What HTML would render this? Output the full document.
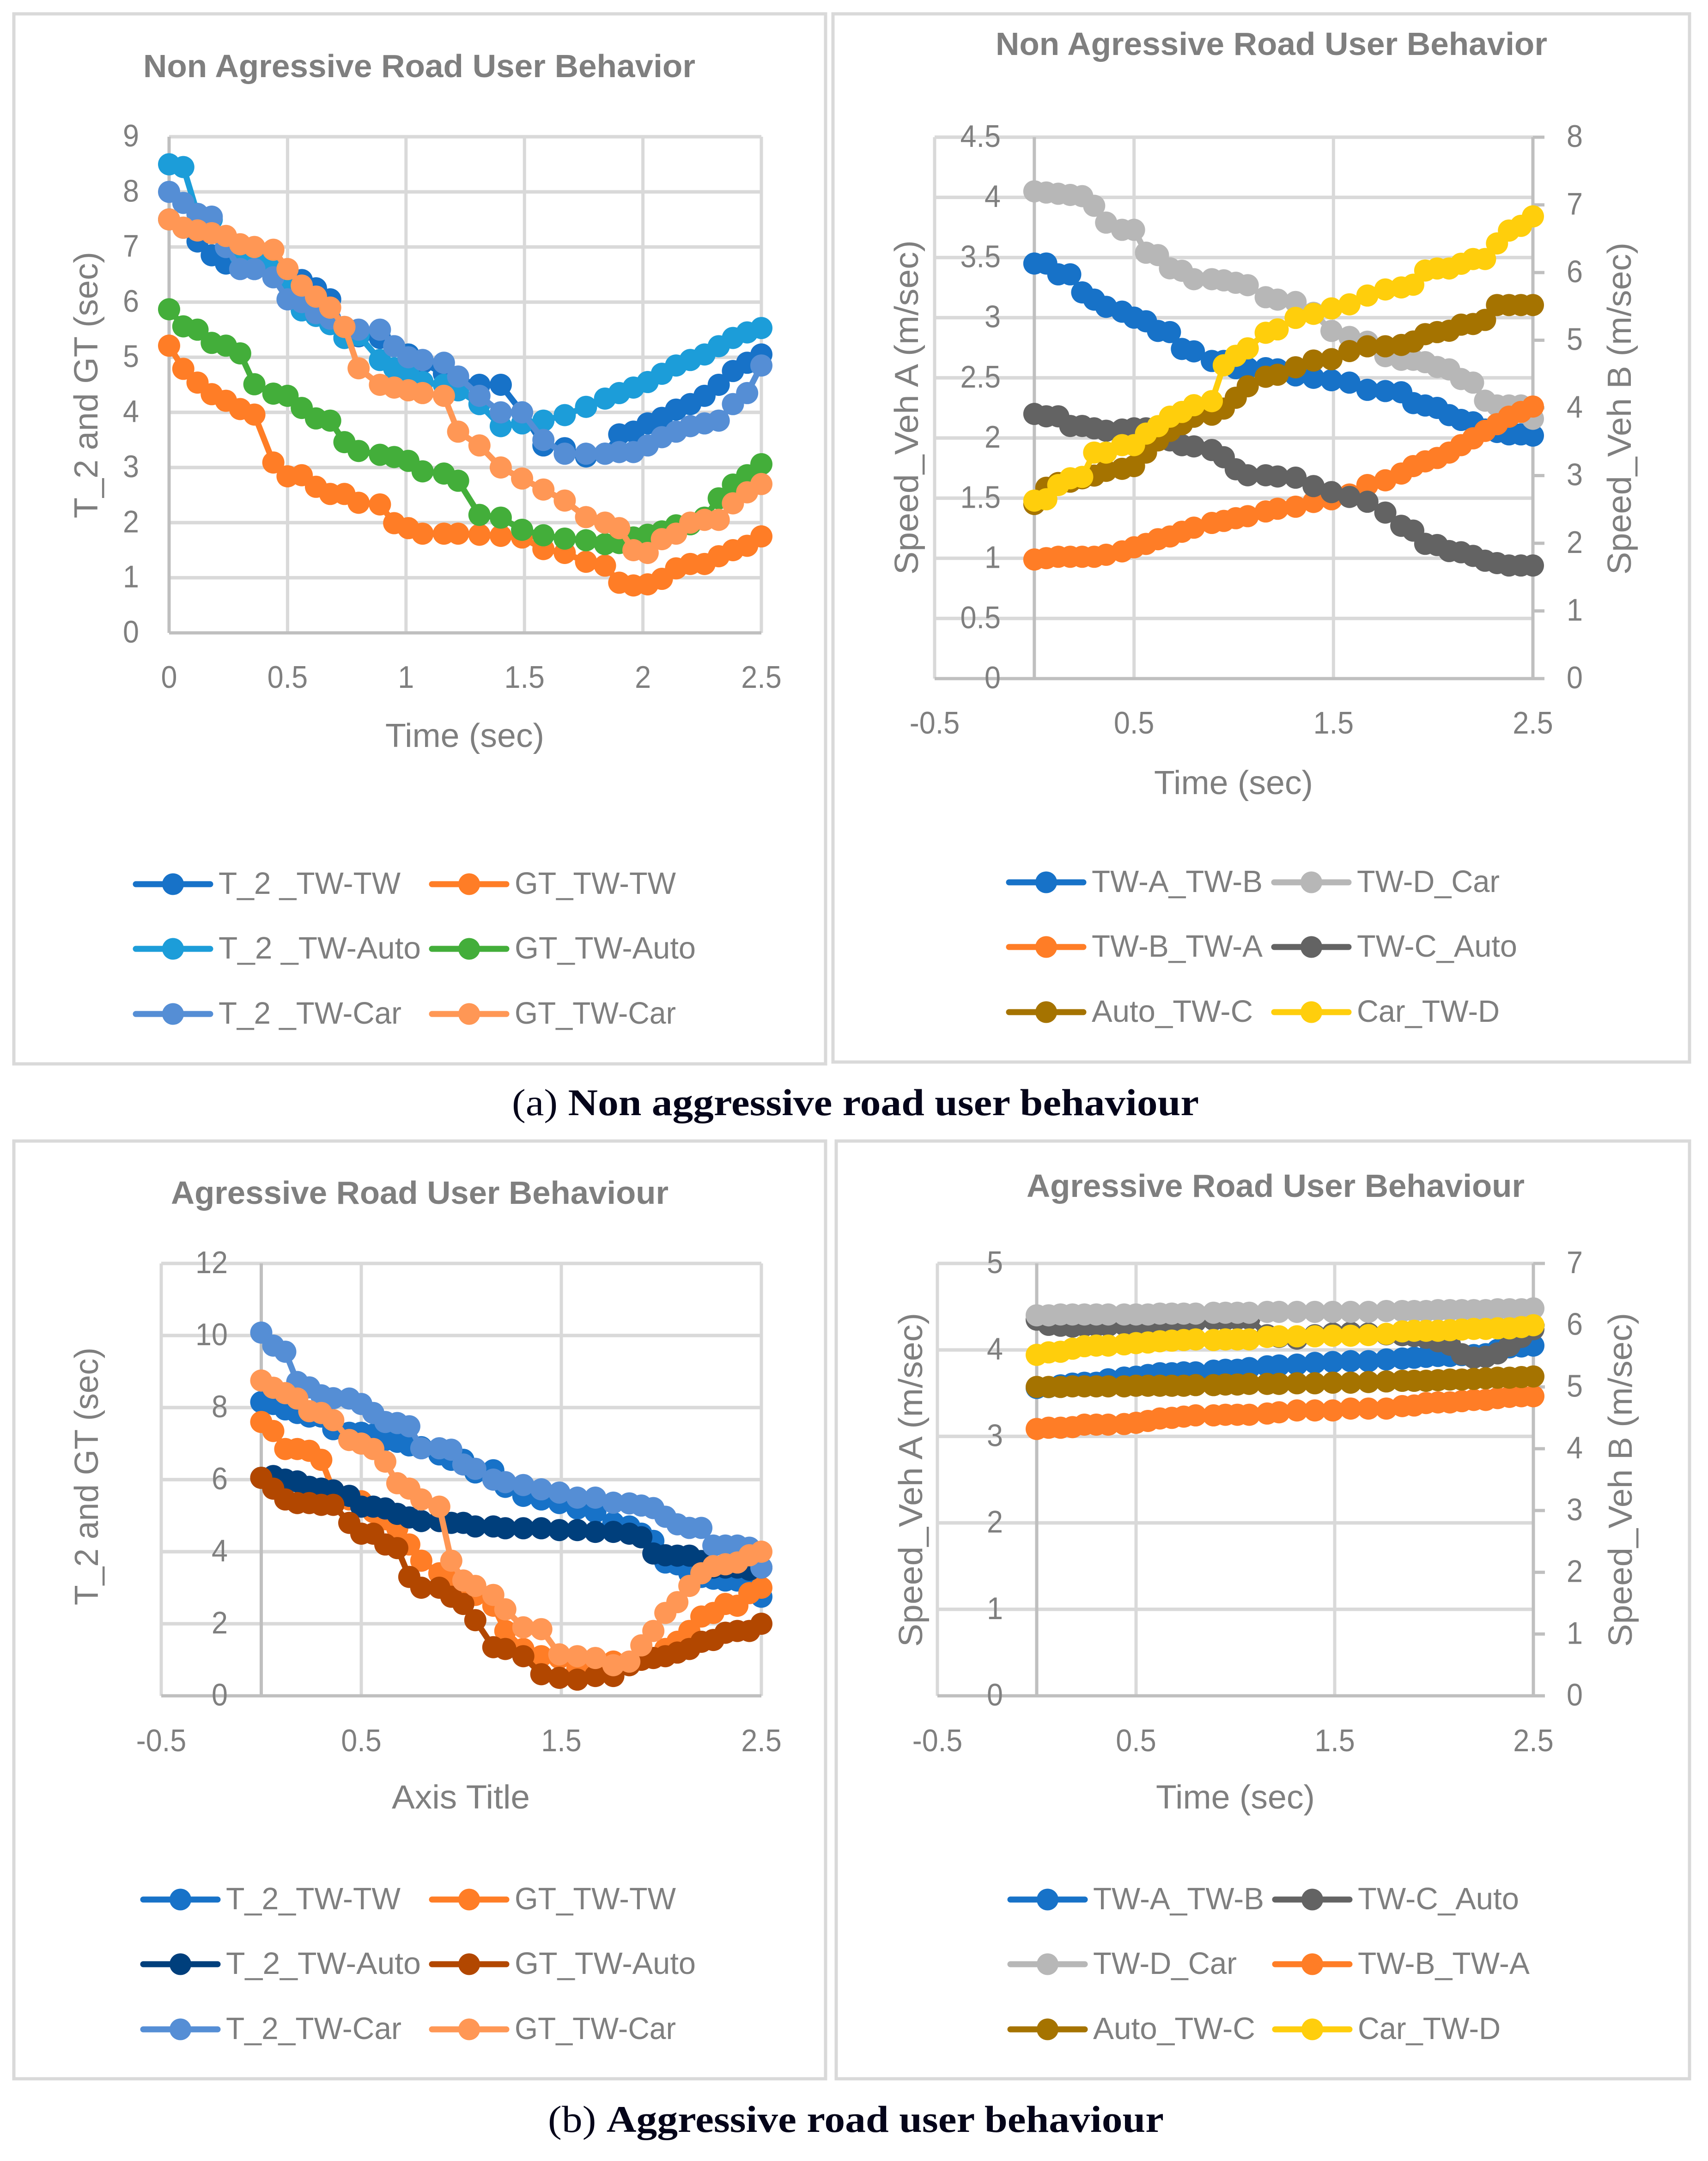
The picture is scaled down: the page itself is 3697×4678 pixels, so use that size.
<!DOCTYPE html>
<html lang="en">
<head>
<meta charset="utf-8">
<title>Road User Behaviour Charts</title>
<style>
html,body{margin:0;padding:0;background:#fff;width:3697px;height:4678px;overflow:hidden}
svg{display:block}
text{font-family:"Liberation Sans",sans-serif;fill:#7f7f7f}
.chart-title{font-size:70px;font-weight:bold}
.axis-title{font-size:72px}
.caption{font-family:"Liberation Serif",serif;font-size:82px;fill:#05051a}
</style>
</head>
<body>
<svg id="figure" xmlns="http://www.w3.org/2000/svg" width="3697" height="4678" viewBox="0 0 3697 4678">
  <rect x="0" y="0" width="3697" height="4678" fill="#ffffff"/>
  <rect x="30" y="30" width="1757" height="2273" fill="#fff" stroke="#d9d9d9" stroke-width="7"/>
  <rect x="1803" y="30" width="1854" height="2269" fill="#fff" stroke="#d9d9d9" stroke-width="7"/>
  <rect x="30" y="2470" width="1757" height="2030" fill="#fff" stroke="#d9d9d9" stroke-width="7"/>
  <rect x="1810" y="2470" width="1847" height="2030" fill="#fff" stroke="#d9d9d9" stroke-width="7"/>

  <g id="chart1"></g>
  <g id="chart2"></g>
  <g id="chart3"></g>
  <g id="chart4"></g>

  <text class="chart-title" x="310" y="167" textLength="1195" lengthAdjust="spacingAndGlyphs">Non Agressive Road User Behavior</text>
  <text class="chart-title" x="2155" y="119" textLength="1194" lengthAdjust="spacingAndGlyphs">Non Agressive Road User Behavior</text>
  <text class="chart-title" x="370" y="2606" textLength="1077" lengthAdjust="spacingAndGlyphs">Agressive Road User Behaviour</text>
  <text class="chart-title" x="2222" y="2591" textLength="1078" lengthAdjust="spacingAndGlyphs">Agressive Road User Behaviour</text>

  <text class="axis-title" x="834" y="1617" textLength="344" lengthAdjust="spacingAndGlyphs">Time (sec)</text>
  <text class="axis-title" transform="translate(211,1122) rotate(-90)" textLength="577" lengthAdjust="spacingAndGlyphs">T_2  and GT (sec)</text>
  <text class="axis-title" x="2498" y="1719" textLength="344" lengthAdjust="spacingAndGlyphs">Time (sec)</text>
  <text class="axis-title" transform="translate(1987,1244) rotate(-90)" textLength="724" lengthAdjust="spacingAndGlyphs">Speed_Veh A (m/sec)</text>
  <text class="axis-title" transform="translate(3530,1244) rotate(-90)" textLength="719" lengthAdjust="spacingAndGlyphs">Speed_Veh B (m/sec)</text>
  <text class="axis-title" x="848" y="3915" textLength="299" lengthAdjust="spacingAndGlyphs">Axis Title</text>
  <text class="axis-title" transform="translate(212,3475) rotate(-90)" textLength="558" lengthAdjust="spacingAndGlyphs">T_2 and GT (sec)</text>
  <text class="axis-title" x="2502" y="3915" textLength="344" lengthAdjust="spacingAndGlyphs">Time (sec)</text>
  <text class="axis-title" transform="translate(1996,3565) rotate(-90)" textLength="723" lengthAdjust="spacingAndGlyphs">Speed_Veh A (m/sec)</text>
  <text class="axis-title" transform="translate(3532,3565) rotate(-90)" textLength="723" lengthAdjust="spacingAndGlyphs">Speed_Veh B (m/sec)</text>

  <text class="caption" x="1108" y="2414" textLength="1487" lengthAdjust="spacingAndGlyphs">(a) <tspan font-weight="bold">Non aggressive road user behaviour</tspan></text>
  <text class="caption" x="1186" y="4615" textLength="1333" lengthAdjust="spacingAndGlyphs">(b) <tspan font-weight="bold">Aggressive road user behaviour</tspan></text>
</svg>

<script>
// ---------- shared category values ----------
const times = [0,0.06,0.12,0.18,0.24,0.30,0.36,0.44,0.50,0.56,0.62,0.68,0.74,0.80,0.89,0.95,1.01,1.07,1.16,1.22,1.31,1.40,1.49,1.58,1.67,1.76,1.84,1.90,1.96,2.02,2.08,2.14,2.20,2.26,2.32,2.38,2.44,2.50];

// ---------- chart 1 values ----------
const c1XTicks = [0,0.5,1,1.5,2,2.5];
const c1YTicks = [0,1,2,3,4,5,6,7,8,9];
const c1T2TwTw = [7.5,7.35,7.1,6.85,6.7,6.7,6.6,6.5,6.45,6.4,6.25,6.05,5.35,5.38,5.35,5.2,5.05,4.9,4.7,4.6,4.5,4.5,4.0,3.4,3.35,3.2,3.25,3.6,3.65,3.8,3.9,4.05,4.15,4.3,4.5,4.75,4.9,5.05];
const c1GtTwTw = [5.21,4.79,4.54,4.33,4.21,4.06,3.96,3.09,2.84,2.86,2.65,2.52,2.52,2.36,2.33,1.99,1.9,1.8,1.8,1.8,1.78,1.76,1.73,1.52,1.45,1.29,1.22,0.91,0.86,0.88,0.98,1.17,1.25,1.25,1.39,1.5,1.58,1.75];
const c1T2TwAuto = [8.5,8.45,7.6,7.5,7.0,6.85,6.75,6.7,6.35,5.85,5.75,5.6,5.35,5.4,4.95,4.8,4.7,4.55,4.5,4.4,4.15,3.75,3.8,3.85,3.95,4.1,4.25,4.35,4.45,4.55,4.7,4.85,4.95,5.05,5.2,5.35,5.45,5.53];
const c1GtTwAuto = [5.87,5.56,5.5,5.26,5.21,5.07,4.51,4.34,4.3,4.08,3.89,3.85,3.46,3.3,3.23,3.19,3.12,2.93,2.89,2.76,2.14,2.09,1.87,1.77,1.71,1.68,1.61,1.63,1.73,1.78,1.84,1.95,1.97,2.09,2.44,2.69,2.86,3.06];
const c1T2TwCar = [8.0,7.8,7.6,7.55,7.0,6.6,6.6,6.45,6.05,6.0,5.8,5.7,5.55,5.5,5.5,5.2,5.0,4.95,4.9,4.65,4.3,4.0,4.0,3.5,3.25,3.25,3.25,3.28,3.28,3.4,3.55,3.65,3.75,3.8,3.85,4.15,4.35,4.85];
const c1GtTwCar = [7.5,7.35,7.3,7.25,7.2,7.05,7.0,6.95,6.6,6.3,6.1,5.9,5.55,4.8,4.5,4.45,4.4,4.35,4.3,3.65,3.4,3,2.8,2.6,2.4,2.1,2.0,1.9,1.5,1.45,1.7,1.8,2.0,2.05,2.05,2.35,2.55,2.7];

// ---------- chart 2 values ----------
const c2XTicks = [-0.5,0.5,1.5,2.5];
const c2LeftTicks = [0,0.5,1,1.5,2,2.5,3,3.5,4,4.5];
const c2RightTicks = [0,1,2,3,4,5,6,7,8];
const c2TwATwB = [3.45,3.45,3.36,3.36,3.21,3.15,3.09,3.05,3.0,2.97,2.89,2.88,2.74,2.72,2.64,2.64,2.58,2.58,2.58,2.57,2.52,2.5,2.48,2.46,2.40,2.39,2.38,2.29,2.27,2.25,2.19,2.15,2.13,2.07,2.05,2.03,2.03,2.02];
const c2TwDCar = [4.05,4.04,4.03,4.02,4.01,3.93,3.79,3.73,3.73,3.54,3.52,3.41,3.39,3.32,3.32,3.31,3.29,3.27,3.17,3.15,3.13,3.04,2.89,2.84,2.8,2.68,2.65,2.65,2.63,2.59,2.57,2.49,2.46,2.31,2.27,2.27,2.27,2.16];
const c2TwBTwA = [1.76,1.78,1.8,1.8,1.8,1.8,1.83,1.88,1.94,1.99,2.06,2.1,2.17,2.23,2.3,2.33,2.37,2.4,2.47,2.51,2.54,2.61,2.65,2.72,2.86,2.93,3.03,3.14,3.21,3.26,3.34,3.45,3.55,3.66,3.76,3.87,3.94,4.02];
const c2TwCAuto = [2.2,2.18,2.18,2.1,2.1,2.08,2.06,2.07,2.08,2.08,2.06,1.98,1.94,1.93,1.9,1.84,1.74,1.69,1.69,1.68,1.67,1.6,1.55,1.51,1.47,1.38,1.27,1.23,1.12,1.11,1.06,1.05,1.02,0.98,0.96,0.94,0.94,0.94];
const c2AutoTwC = [2.58,2.82,2.89,2.91,2.96,3.0,3.07,3.1,3.14,3.34,3.52,3.66,3.76,3.87,3.9,3.99,4.15,4.32,4.46,4.49,4.6,4.7,4.72,4.84,4.91,4.91,4.93,4.98,5.09,5.12,5.14,5.23,5.24,5.3,5.52,5.52,5.52,5.52];
const c2CarTwD = [2.63,2.65,2.86,2.96,2.98,3.34,3.34,3.45,3.45,3.62,3.73,3.87,3.94,4.04,4.1,4.63,4.77,4.88,5.11,5.16,5.33,5.39,5.47,5.53,5.66,5.75,5.78,5.82,6.03,6.06,6.06,6.13,6.2,6.2,6.43,6.62,6.69,6.83];

// ---------- chart 3 values ----------
const c3XTicks = [-0.5,0.5,1.5,2.5];
const c3YTicks = [0,2,4,6,8,10,12];
const c3T2TwTw = [8.15,8.1,7.95,7.85,7.75,7.75,7.4,7.3,7.3,7.25,7.1,7.05,6.95,6.9,6.7,6.55,6.55,6.2,6.26,5.8,5.55,5.45,5.35,5.2,5.1,4.8,4.7,4.5,4.3,3.7,3.65,3.4,3.3,3.25,3.2,3.2,3.05,2.75];
const c3GtTwTw = [7.6,7.35,6.85,6.85,6.8,6.55,5.7,5.45,5.4,5.1,4.9,4.65,4.2,3.75,3.4,3.2,3.0,2.8,2.5,1.8,1.3,1.1,1.05,0.75,0.65,0.95,0.9,1.0,1.05,1.3,1.5,1.8,2.2,2.3,2.55,2.5,2.85,3.0];
const c3T2TwAuto = [6.05,6.1,6.0,5.95,5.8,5.75,5.7,5.55,5.25,5.25,5.2,5.05,4.95,4.85,4.85,4.8,4.8,4.7,4.7,4.65,4.65,4.65,4.6,4.6,4.55,4.55,4.5,4.4,3.95,3.9,3.89,3.89,3.74,3.56,3.56,3.56,3.5,3.56];
const c3GtTwAuto = [6.05,5.75,5.45,5.35,5.35,5.3,5.3,4.8,4.5,4.5,4.2,4.1,3.3,3.0,3.0,2.75,2.55,2.1,1.35,1.3,1.1,0.6,0.5,0.45,0.55,0.55,0.85,1.0,1.05,1.1,1.2,1.3,1.5,1.55,1.75,1.8,1.8,2.0];
const c3T2TwCar = [10.08,9.72,9.55,8.71,8.56,8.34,8.26,8.25,8.1,7.85,7.6,7.57,7.48,6.87,6.87,6.83,6.42,6.3,6.0,5.93,5.85,5.73,5.64,5.5,5.5,5.36,5.34,5.28,5.21,4.97,4.76,4.66,4.66,4.17,4.17,4.17,4.11,3.56];
const c3GtTwCar = [8.75,8.55,8.4,8.25,7.9,7.85,7.65,7.1,7.0,6.85,6.5,5.9,5.75,5.45,5.25,3.75,3.2,3.05,2.8,2.4,1.9,1.85,1.15,1.1,1.05,0.85,0.95,1.4,1.8,2.3,2.6,3.05,3.4,3.6,3.65,3.7,3.9,4.0];

// ---------- chart 4 values ----------
const c4XTicks = [-0.5,0.5,1.5,2.5];
const c4LeftTicks = [0,1,2,3,4,5];
const c4RightTicks = [0,1,2,3,4,5,6,7];
const c4TwATwB = [3.56,3.57,3.59,3.61,3.62,3.62,3.66,3.68,3.69,3.71,3.73,3.73,3.74,3.74,3.76,3.77,3.77,3.79,3.81,3.82,3.83,3.85,3.86,3.87,3.87,3.89,3.9,3.91,3.92,3.93,3.93,3.94,3.94,3.95,4.0,4.03,4.04,4.05];
const c4TwCAuto = [4.35,4.29,4.28,4.27,4.28,4.28,4.28,4.29,4.3,4.3,4.31,4.32,4.33,4.33,4.35,4.35,4.36,4.36,4.17,4.15,4.13,4.17,4.19,4.2,4.19,4.18,4.17,4.16,4.14,4.1,4.06,3.95,3.91,3.92,3.96,4.05,4.15,4.24];
const c4TwDCar = [4.40,4.40,4.41,4.41,4.41,4.41,4.41,4.41,4.41,4.41,4.42,4.42,4.42,4.42,4.43,4.43,4.43,4.43,4.44,4.44,4.44,4.44,4.44,4.44,4.44,4.45,4.45,4.45,4.45,4.46,4.46,4.46,4.46,4.46,4.47,4.47,4.47,4.48];
const c4TwBTwA = [4.32,4.34,4.34,4.35,4.39,4.39,4.39,4.40,4.42,4.45,4.49,4.50,4.52,4.54,4.54,4.55,4.55,4.55,4.57,4.59,4.62,4.62,4.62,4.65,4.65,4.65,4.69,4.70,4.74,4.75,4.75,4.77,4.79,4.79,4.82,4.84,4.85,4.85];
const c4AutoTwC = [5.0,5.0,5.0,5.01,5.01,5.01,5.01,5.01,5.02,5.02,5.02,5.02,5.02,5.03,5.03,5.04,5.04,5.05,5.05,5.05,5.06,5.06,5.07,5.07,5.08,5.09,5.1,5.1,5.1,5.11,5.12,5.12,5.13,5.14,5.15,5.15,5.16,5.17];
const c4CarTwD = [5.52,5.56,5.57,5.62,5.66,5.67,5.67,5.69,5.71,5.72,5.74,5.75,5.76,5.77,5.76,5.77,5.77,5.77,5.81,5.82,5.82,5.82,5.83,5.83,5.84,5.86,5.9,5.91,5.91,5.91,5.92,5.93,5.94,5.94,5.95,5.95,5.97,6.0];

// ---------- renderer ----------
const NS = 'http://www.w3.org/2000/svg';
const GRID = '#d9d9d9';
const AXIS = '#bfbfbf';
const TICK_SIZE = 68;
const LEGEND_SIZE = 67;

function make(tag, attrs, parent) {
  const node = document.createElementNS(NS, tag);
  for (const key in attrs) node.setAttribute(key, attrs[key]);
  parent.appendChild(node);
  return node;
}

function drawLabel(parent, str, x, y, anchor, size, width) {
  const label = make('text', {x: x, y: y, 'text-anchor': anchor, 'font-size': size}, parent);
  if (width) {
    label.setAttribute('textLength', width);
    label.setAttribute('lengthAdjust', 'spacingAndGlyphs');
  }
  label.textContent = str;
  return label;
}

// width of a numeric tick label in the narrower face used by the source chart
function tickWidth(str) {
  let w = 0;
  for (const ch of str) w += ch === '.' ? 17.5 : ch === '-' ? 21 : 35;
  return w;
}

function drawChart(cfg) {
  const root = document.getElementById(cfg.id);
  const xScale = v => cfg.left + (v - cfg.xMin) / (cfg.xMax - cfg.xMin) * (cfg.right - cfg.left);
  const yLeft = v => cfg.bottom - (v - cfg.yMin) / (cfg.yMax - cfg.yMin) * (cfg.bottom - cfg.top);
  const yRight = v => cfg.bottom - v / cfg.y2Max * (cfg.bottom - cfg.top);

  cfg.xTicks.forEach(v => {
    const grid = make('line', {x1: xScale(v), x2: xScale(v), y1: cfg.top, y2: cfg.bottom, stroke: GRID, 'stroke-width': 7}, root);
    
    
    const tick = drawLabel(root, String(v), xScale(v), cfg.xLabelY, 'middle', TICK_SIZE, tickWidth(String(v)));
    
    
  });

  cfg.yTicks.forEach(v => {
    if (v === 0) return;
    const grid = make('line', {x1: cfg.left, x2: cfg.right, y1: yLeft(v), y2: yLeft(v), stroke: GRID, 'stroke-width': 7.5}, root);
    
    
  });

  const bottomAxis = make('line', {x1: cfg.left, x2: cfg.right + (cfg.y2Ticks ? 25 : 0), y1: cfg.bottom, y2: cfg.bottom, stroke: AXIS, 'stroke-width': 7}, root);
  
  

  const zero = make('line', {x1: xScale(0), x2: xScale(0), y1: cfg.top, y2: cfg.bottom, stroke: AXIS, 'stroke-width': 7}, root);
  
  

  if (cfg.y2Ticks) {
    const rightAxis = make('line', {x1: cfg.right, x2: cfg.right, y1: cfg.top, y2: cfg.bottom, stroke: AXIS, 'stroke-width': 7}, root);
    
    
    cfg.y2Ticks.forEach(v => {
      const mark = make('line', {x1: cfg.right, x2: cfg.right + 25, y1: yRight(v), y2: yRight(v), stroke: AXIS, 'stroke-width': 7}, root);
      
      
      const tick = drawLabel(root, String(v), cfg.y2LabelX, yRight(v) + 21, 'start', TICK_SIZE, tickWidth(String(v)));
      
      
    });
  }

  cfg.series.forEach(s => {
    const yFn = s.secondary ? yRight : yLeft;
    const group = make('g', {}, root);
    
    
    const pts = s.values.map((v, i) => xScale(times[i]).toFixed(1) + ',' + yFn(v).toFixed(1)).join(' ');
    const line = make('polyline', {points: pts, fill: 'none', stroke: s.color, 'stroke-width': 13, 'stroke-linejoin': 'round'}, group);
    
    
    s.values.forEach((v, i) => {
      const dot = make('circle', {cx: xScale(times[i]), cy: yFn(v), r: 24, fill: s.color}, group);
      
      
    });
  });

  cfg.yTicks.forEach(v => {
    const tick = drawLabel(root, String(v), cfg.yLabelX, yLeft(v) + 21, 'end', TICK_SIZE, tickWidth(String(v)));
    
    
  });

  cfg.legend.forEach(item => {
    const entry = make('g', {}, root);
    
    
    const swatch = make('line', {x1: item.x + 6, x2: item.x + 167, y1: item.y, y2: item.y, stroke: item.color, 'stroke-width': 13, 'stroke-linecap': 'round'}, entry);
    
    
    const mark = make('circle', {cx: item.x + 86.5, cy: item.y, r: 23.5, fill: item.color}, entry);
    
    
    const label = drawLabel(entry, item.label, item.x + 185, item.y + 21, 'start', LEGEND_SIZE, item.w);
    
    
  });
}

drawChart({
  id: 'chart1', left: 366, right: 1648, top: 296, bottom: 1370,
  xMin: 0, xMax: 2.5, yMin: 0, yMax: 9,
  xTicks: c1XTicks, yTicks: c1YTicks, xLabelY: 1489, yLabelX: 301,
  series: [
    {name: 'T_2-TW-TW', values: c1T2TwTw, color: '#1772c8'},
    {name: 'GT-TW-TW', values: c1GtTwTw, color: '#ff7d26'},
    {name: 'T_2-TW-Auto', values: c1T2TwAuto, color: '#1c9dd9'},
    {name: 'GT-TW-Auto', values: c1GtTwAuto, color: '#43ae3a'},
    {name: 'T_2-TW-Car', values: c1T2TwCar, color: '#558ed5'},
    {name: 'GT-TW-Car', values: c1GtTwCar, color: '#ff9755'}
  ],
  legend: [
    {label: 'T_2 _TW-TW', x: 288, y: 1914, w: 394, color: '#1772c8'},
    {label: 'GT_TW-TW', x: 929, y: 1914, w: 349, color: '#ff7d26'},
    {label: 'T_2 _TW-Auto', x: 288, y: 2054, w: 438, color: '#1c9dd9'},
    {label: 'GT_TW-Auto', x: 929, y: 2054, w: 392, color: '#43ae3a'},
    {label: 'T_2 _TW-Car', x: 288, y: 2195, w: 396, color: '#558ed5'},
    {label: 'GT_TW-Car', x: 929, y: 2195, w: 349, color: '#ff9755'}
  ]
});

drawChart({
  id: 'chart2', left: 2023, right: 3318, top: 297, bottom: 1469,
  xMin: -0.5, xMax: 2.5, yMin: 0, yMax: 4.5, y2Max: 8,
  xTicks: c2XTicks, yTicks: c2LeftTicks, y2Ticks: c2RightTicks, xLabelY: 1588, yLabelX: 2166, y2LabelX: 3391,
  series: [
    {name: 'TW-A_TW-B', values: c2TwATwB, color: '#1772c8'},
    {name: 'TW-D_Car', values: c2TwDCar, color: '#b7b7b7'},
    {name: 'TW-B_TW-A', values: c2TwBTwA, color: '#ff7d26', secondary: true},
    {name: 'TW-C_Auto', values: c2TwCAuto, color: '#636363'},
    {name: 'Auto_TW-C', values: c2AutoTwC, color: '#a57300', secondary: true},
    {name: 'Car_TW-D', values: c2CarTwD, color: '#ffce0c', secondary: true}
  ],
  legend: [
    {label: 'TW-A_TW-B', x: 2178, y: 1910, w: 370, color: '#1772c8'},
    {label: 'TW-D_Car', x: 2752, y: 1910, w: 309, color: '#b7b7b7'},
    {label: 'TW-B_TW-A', x: 2178, y: 2050, w: 370, color: '#ff7d26'},
    {label: 'TW-C_Auto', x: 2752, y: 2050, w: 347, color: '#636363'},
    {label: 'Auto_TW-C', x: 2178, y: 2191, w: 349, color: '#a57300'},
    {label: 'Car_TW-D', x: 2752, y: 2191, w: 309, color: '#ffce0c'}
  ]
});

drawChart({
  id: 'chart3', left: 349, right: 1648, top: 2735, bottom: 3671,
  xMin: -0.5, xMax: 2.5, yMin: 0, yMax: 12,
  xTicks: c3XTicks, yTicks: c3YTicks, xLabelY: 3791, yLabelX: 493,
  series: [
    {name: 'T_2_TW-TW', values: c3T2TwTw, color: '#1772c8'},
    {name: 'GT_TW-TW', values: c3GtTwTw, color: '#ff7d26'},
    {name: 'T_2_TW-Auto', values: c3T2TwAuto, color: '#003f7c'},
    {name: 'GT_TW-Auto', values: c3GtTwAuto, color: '#b24700'},
    {name: 'T_2_TW-Car', values: c3T2TwCar, color: '#558ed5'},
    {name: 'GT_TW-Car', values: c3GtTwCar, color: '#ff9755'}
  ],
  legend: [
    {label: 'T_2_TW-TW', x: 304, y: 4112, w: 378, color: '#1772c8'},
    {label: 'GT_TW-TW', x: 929, y: 4112, w: 349, color: '#ff7d26'},
    {label: 'T_2_TW-Auto', x: 304, y: 4252, w: 422, color: '#003f7c'},
    {label: 'GT_TW-Auto', x: 929, y: 4252, w: 392, color: '#b24700'},
    {label: 'T_2_TW-Car', x: 304, y: 4393, w: 380, color: '#558ed5'},
    {label: 'GT_TW-Car', x: 929, y: 4393, w: 349, color: '#ff9755'}
  ]
});

drawChart({
  id: 'chart4', left: 2029, right: 3319, top: 2735, bottom: 3671,
  xMin: -0.5, xMax: 2.5, yMin: 0, yMax: 5, y2Max: 7,
  xTicks: c4XTicks, yTicks: c4LeftTicks, y2Ticks: c4RightTicks, xLabelY: 3791, yLabelX: 2171, y2LabelX: 3391,
  series: [
    {name: 'TW-A_TW-B', values: c4TwATwB, color: '#1772c8'},
    {name: 'TW-C_Auto', values: c4TwCAuto, color: '#636363'},
    {name: 'TW-D_Car', values: c4TwDCar, color: '#b7b7b7'},
    {name: 'TW-B_TW-A', values: c4TwBTwA, color: '#ff7d26', secondary: true},
    {name: 'Auto_TW-C', values: c4AutoTwC, color: '#a57300', secondary: true},
    {name: 'Car_TW-D', values: c4CarTwD, color: '#ffce0c', secondary: true}
  ],
  legend: [
    {label: 'TW-A_TW-B', x: 2181, y: 4112, w: 370, color: '#1772c8'},
    {label: 'TW-C_Auto', x: 2754, y: 4112, w: 349, color: '#636363'},
    {label: 'TW-D_Car', x: 2181, y: 4252, w: 311, color: '#b7b7b7'},
    {label: 'TW-B_TW-A', x: 2754, y: 4252, w: 372, color: '#ff7d26'},
    {label: 'Auto_TW-C', x: 2181, y: 4393, w: 351, color: '#a57300'},
    {label: 'Car_TW-D', x: 2754, y: 4393, w: 309, color: '#ffce0c'}
  ]
});
</script>
</body>
</html>
